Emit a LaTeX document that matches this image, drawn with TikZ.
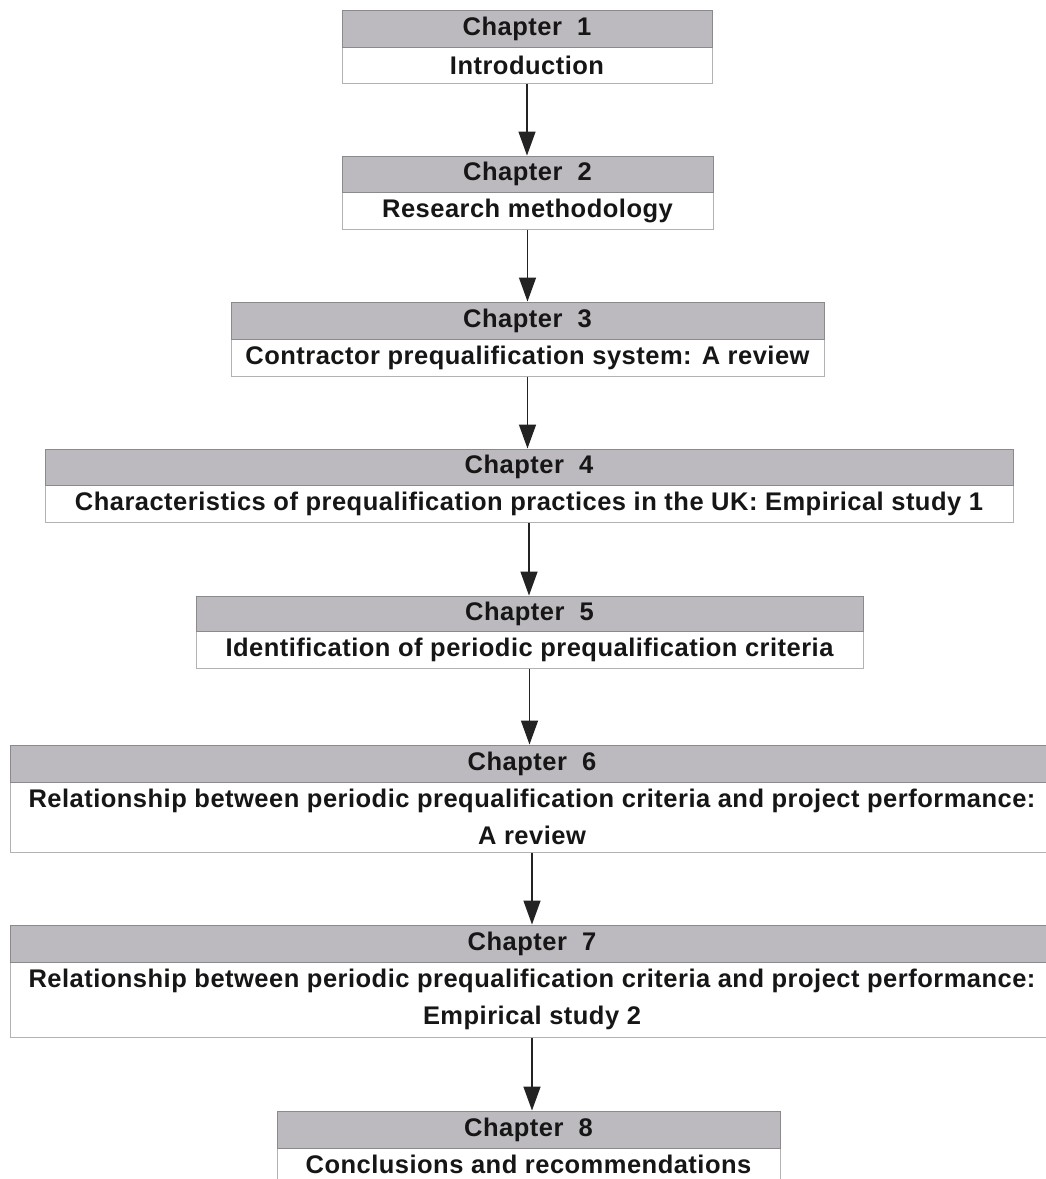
\documentclass[tikz,border=0pt]{standalone}
\usepackage{fontspec}
\setmainfont{Liberation Sans}[LetterSpace=1.9]
\usetikzlibrary{arrows.meta}

\definecolor{bandgray}{RGB}{188,186,190}
\definecolor{bandedge}{RGB}{138,138,140}
\definecolor{bodyedge}{RGB}{178,178,178}
\definecolor{inktext}{RGB}{22,22,22}
\definecolor{arrowink}{RGB}{35,35,35}

\tikzset{
  band/.style={draw=bandedge, fill=bandgray, line width=1pt, inner sep=0pt,
    font=\fontsize{25.5}{30}\selectfont\bfseries, text=inktext},
  panel/.style={draw=bodyedge, fill=white, line width=1pt, inner sep=0pt,
    align=center, font=\fontsize{25.5}{37}\selectfont\bfseries, text=inktext},
  flow/.style={draw=arrowink, line width=1.5pt,
    -{Triangle[length=24pt,width=17pt]}}
}

% #1 id, #2 left, #3 right, #4 band top, #5 band bottom, #6 panel bottom,
% #7 chapter number, #8 panel text
\newcommand\chapbox[8]{%
  \node[panel, minimum width={(#3-#2)*1pt}, minimum height={(#6-#5)*1pt}]
    (b#1) at ({(#2+#3)/2},{(#5+#6)/2}) {#8};
  \node[band, minimum width={(#3-#2)*1pt}, minimum height={(#5-#4)*1pt}]
    (h#1) at ({(#2+#3)/2},{(#4+#5)/2}) {Chapter~~#7};
}

\begin{document}
\begin{tikzpicture}[x=1pt,y=-1pt]
  \clip (0,0) rectangle (1046,1179);
  \fill[white] (0,0) rectangle (1046,1179);

  \chapbox{1}{342}{712}{10}{47}{83}{1}{Introduction}
  \chapbox{2}{342}{713}{156}{192}{229}{2}{Research methodology}
  \chapbox{3}{231}{824}{302}{339}{376}{3}{Contractor prequalification system: A review}
  \chapbox{4}{45}{1013}{449}{485}{522}{4}{Characteristics of prequalification practices in the UK: Empirical study 1}
  \chapbox{5}{196}{863}{596}{631}{668}{5}{Identification of periodic prequalification criteria}
  \chapbox{6}{10}{1054}{745}{782}{852}{6}{Relationship between periodic prequalification criteria and project performance:\\A review}
  \chapbox{7}{10}{1054}{925}{962}{1037}{7}{Relationship between periodic prequalification criteria and project performance:\\Empirical study 2}
  \chapbox{8}{277}{780}{1111}{1148}{1181}{8}{Conclusions and recommendations}

  \draw[flow] (b1.south) -- (b1.south |- h2.north);
  \draw[flow] (b2.south) -- (b2.south |- h3.north);
  \draw[flow] (b3.south) -- (b3.south |- h4.north);
  \draw[flow] (b4.south) -- (b4.south |- h5.north);
  \draw[flow] (b5.south) -- (b5.south |- h6.north);
  \draw[flow] (b6.south) -- (b6.south |- h7.north);
  \draw[flow] (b7.south) -- (b7.south |- h8.north);
\end{tikzpicture}
\end{document}
